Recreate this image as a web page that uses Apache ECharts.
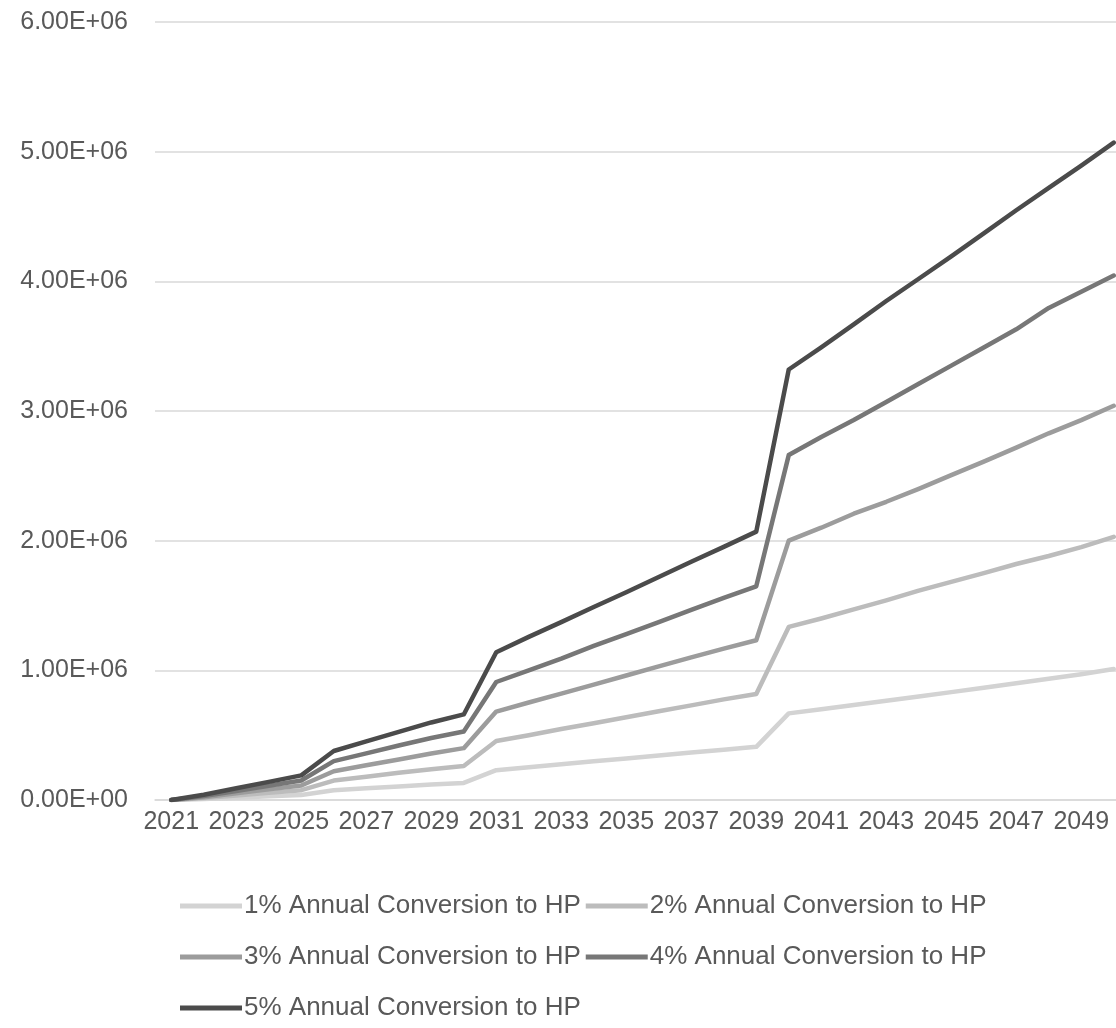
<!DOCTYPE html>
<html>
<head>
<meta charset="utf-8">
<script src="https://cdn.jsdelivr.net/npm/echarts@6/dist/echarts.min.js"></script>
<style>
  html, body { margin: 0; padding: 0; background: #ffffff; }
  #chart { width: 1116px; height: 1028px; }
</style>
</head>
<body>
<div id="chart"></div>
<script>
// Cumulative heat-pump conversions by scenario, 2021–2050
const years = [
  '2021', '2022', '2023', '2024', '2025', '2026', '2027', '2028', '2029', '2030',
  '2031', '2032', '2033', '2034', '2035', '2036', '2037', '2038', '2039', '2040',
  '2041', '2042', '2043', '2044', '2045', '2046', '2047', '2048', '2049', '2050'
];

const seriesNames = [
  '1% Annual Conversion to HP',
  '2% Annual Conversion to HP',
  '3% Annual Conversion to HP',
  '4% Annual Conversion to HP',
  '5% Annual Conversion to HP'
];

const conv1 = [
  0, 8000, 18000, 28000, 38000, 75000, 90000, 105000, 120000, 132000,
  230000, 252000, 275000, 298000, 320000, 343000, 366000, 388000, 410000, 668000,
  700000, 732000, 765000, 798000, 832000, 865000, 900000, 935000, 970000, 1010000
];
const conv2 = [
  0, 15000, 35000, 55000, 76000, 150000, 180000, 210000, 238000, 262000,
  455000, 500000, 548000, 592000, 638000, 685000, 730000, 776000, 818000, 1335000,
  1400000, 1470000, 1540000, 1615000, 1682000, 1750000, 1820000, 1882000, 1950000, 2030000
];
const conv3 = [
  0, 22000, 52000, 82000, 112000, 222000, 268000, 312000, 358000, 400000,
  682000, 752000, 820000, 890000, 960000, 1030000, 1100000, 1168000, 1232000, 2000000,
  2100000, 2208000, 2300000, 2400000, 2505000, 2610000, 2718000, 2828000, 2930000, 3040000
];
const conv4 = [
  0, 30000, 70000, 110000, 150000, 300000, 360000, 420000, 478000, 528000,
  910000, 1000000, 1090000, 1188000, 1280000, 1372000, 1466000, 1558000, 1648000, 2660000,
  2800000, 2930000, 3070000, 3210000, 3350000, 3490000, 3630000, 3795000, 3920000, 4045000
];
const conv5 = [
  0, 40000, 90000, 140000, 190000, 378000, 452000, 525000, 598000, 660000,
  1140000, 1258000, 1372000, 1488000, 1602000, 1720000, 1838000, 1952000, 2070000, 3320000,
  3490000, 3668000, 3848000, 4020000, 4192000, 4370000, 4548000, 4720000, 4892000, 5070000
];

const yTicks = { min: 0, max: 6000000, interval: 1000000 };

const lineColors = ['#d3d3d3', '#bcbcbc', '#9c9c9c', '#777777', '#4b4b4b'];
const allValues = [conv1, conv2, conv3, conv4, conv5];

// Excel-style scientific notation: 6.00E+06
function sci(v) {
  if (v === 0) return '0.00E+00';
  const exp = Math.floor(Math.log10(Math.abs(v)));
  const mant = v / Math.pow(10, exp);
  const sign = exp < 0 ? '-' : '+';
  const e = String(Math.abs(exp)).padStart(2, '0');
  return mant.toFixed(2) + 'E' + sign + e;
}

const textColor = '#595959';
const fontFamily = '"Liberation Sans", Arial, sans-serif';

const chart = echarts.init(document.getElementById('chart'), null, { renderer: 'canvas' });

chart.setOption({
  animation: false,
  backgroundColor: '#ffffff',
  // plot area runs slightly past the right edge of the canvas
  grid: {
    left: 155, right: -14, top: 22, bottom: 228,
    containLabel: false,
    outerBoundsMode: 'none'
  },
  xAxis: {
    type: 'category',
    data: years,
    boundaryGap: true,
    axisLine: { show: true, lineStyle: { color: '#d9d9d9', width: 1.5 } },
    axisTick: { show: false },
    axisLabel: {
      interval: 1,
      color: textColor,
      fontFamily: fontFamily,
      fontSize: 25,
      margin: 10
    },
    splitLine: { show: false }
  },
  yAxis: {
    type: 'value',
    min: yTicks.min,
    max: yTicks.max,
    interval: yTicks.interval,
    axisLine: { show: false },
    axisTick: { show: false },
    axisLabel: {
      color: textColor,
      fontFamily: fontFamily,
      fontSize: 25,
      margin: 27,
      formatter: sci
    },
    splitLine: { show: true, lineStyle: { color: '#d9d9d9', width: 1.5 } }
  },
  legend: {
    show: true,
    left: 175,
    top: 878,
    width: 860,
    orient: 'horizontal',
    icon: 'rect',
    itemWidth: 62,
    itemHeight: 5,
    itemGap: 5,
    textStyle: {
      color: textColor,
      fontFamily: fontFamily,
      fontSize: 26,
      lineHeight: 46,
      padding: [0, 0, 0, -3]
    },
    data: seriesNames
  },
  series: seriesNames.map((name, i) => ({
    name: name,
    type: 'line',
    data: allValues[i],
    symbol: 'none',
    smooth: false,
    lineStyle: { color: lineColors[i], width: 4.5, join: 'round', cap: 'round' },
    itemStyle: { color: lineColors[i] },
    z: 2 + i
  }))
});
</script>
</body>
</html>
